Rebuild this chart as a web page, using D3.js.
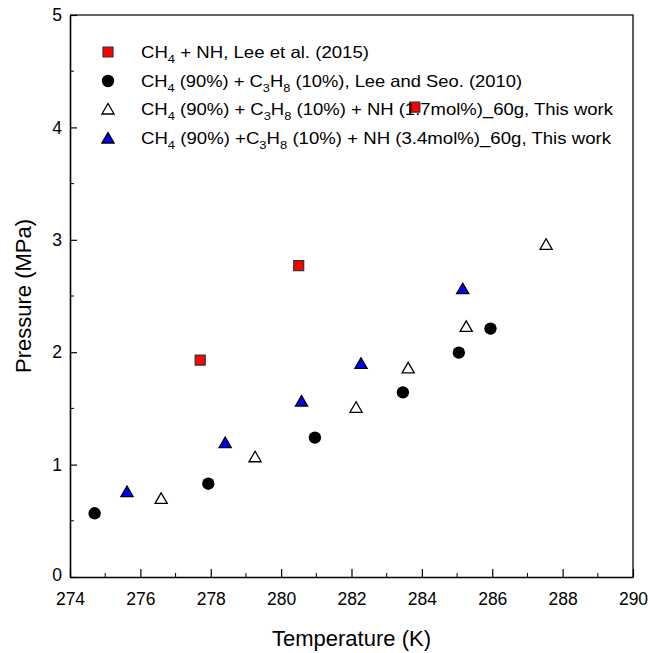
<!DOCTYPE html>
<html>
<head>
<meta charset="utf-8">
<script src="https://cdn.jsdelivr.net/npm/d3@7"></script>
<style>
  body { margin: 0; background: #fff; }
  text { font-family: "Liberation Sans", Arial, sans-serif; fill: #000; }
</style>
</head>
<body>
<div class="chart"></div>
<script>
// data
var leeNhT = [277.7, 280.5, 283.8];
var leeNhP = [1.93, 2.77, 4.18];

var leeSeoT = [274.7, 277.93, 280.96, 283.46, 285.05, 285.95];
var leeSeoP = [0.567, 0.83, 1.24, 1.643, 1.996, 2.21];

var nh17T = [276.59, 279.26, 282.13, 283.61, 285.26, 287.53];
var nh17P = [0.70, 1.07, 1.51, 1.86, 2.23, 2.96];

var nh34T = [275.62, 278.41, 280.58, 282.27, 285.16];
var nh34P = [0.76, 1.195, 1.566, 1.90, 2.565];

var xTicks = [274, 276, 278, 280, 282, 284, 286, 288, 290];
var yTicks = [0, 1, 2, 3, 4, 5];

var svgWidth = 651;
var svgHeight = 653;

var margin = { top: 15, right: 18, bottom: 76, left: 70 };
var width = svgWidth - margin.left - margin.right;
var height = svgHeight - margin.top - margin.bottom;

var svg = d3.select(".chart")
  .append("svg")
  .attr("width", svgWidth)
  .attr("height", svgHeight);

var chartGroup = svg.append("g")
  .attr("transform", `translate(${margin.left}, ${margin.top})`);

var xScale = d3.scaleLinear().domain([274, 290]).range([0, width]);
var yScale = d3.scaleLinear().domain([0, 5]).range([height, 0]);

// frame (top + right)
chartGroup.append("path")
  .attr("d", `M0,0 H${width} V${height}`)
  .attr("fill", "none")
  .attr("stroke", "#333")
  .attr("stroke-width", 1.6);

// minor ticks
var xMinor = d3.range(275, 290, 2);
var yMinor = d3.range(0.5, 5, 1);

chartGroup.append("g").selectAll("line")
  .data(xMinor)
  .enter()
  .append("line")
  .attr("x1", d => xScale(d)).attr("x2", d => xScale(d))
  .attr("y1", height).attr("y2", height - 4)
  .attr("stroke", "#000").attr("stroke-width", 1);

chartGroup.append("g").selectAll("line")
  .data(yMinor)
  .enter()
  .append("line")
  .attr("x1", 0).attr("x2", 4)
  .attr("y1", d => yScale(d)).attr("y2", d => yScale(d))
  .attr("stroke", "#000").attr("stroke-width", 1);

// axes with inward ticks
var bottomAxis = d3.axisBottom(xScale).tickValues(xTicks).tickFormat(d3.format("d"))
  .tickSizeInner(-8).tickSizeOuter(0).tickPadding(16);
var leftAxis = d3.axisLeft(yScale).tickValues(yTicks).tickFormat(d3.format("d"))
  .tickSizeInner(-7).tickSizeOuter(0).tickPadding(8);

var xAxisG = chartGroup.append("g")
  .attr("transform", `translate(0, ${height})`)
  .call(bottomAxis);

var yAxisG = chartGroup.append("g")
  .call(leftAxis);

[xAxisG, yAxisG].forEach(function(g) {
  g.select(".domain").attr("stroke", "#000").attr("stroke-width", 1.6);
  g.selectAll(".tick line").attr("stroke", "#000").attr("stroke-width", 1.2);
  g.selectAll(".tick text")
    .style("font-family", "'Liberation Sans', Arial, sans-serif")
    .style("font-size", "17.5px")
    .attr("fill", "#000");
});
// the first y tick label sits slightly below the axis corner
yAxisG.selectAll(".tick text").filter(d => d === 0).attr("dy", "0.2em");

// points
var triangle = d3.symbol().type(d3.symbolTriangle).size(64);
var square = d3.symbol().type(d3.symbolSquare).size(100);

chartGroup.append("g").selectAll("circle")
  .data(leeSeoT)
  .enter()
  .append("circle")
  .attr("cx", d => xScale(d))
  .attr("cy", (d, i) => yScale(leeSeoP[i]))
  .attr("r", 6.2)
  .attr("fill", "#000");

chartGroup.append("g").selectAll("path")
  .data(nh17T)
  .enter()
  .append("path")
  .attr("d", triangle)
  .attr("transform", (d, i) => `translate(${xScale(d)}, ${yScale(nh17P[i]) + 1.5})`)
  .attr("fill", "#fff")
  .attr("stroke", "#000")
  .attr("stroke-width", 1.3);

chartGroup.append("g").selectAll("path")
  .data(nh34T)
  .enter()
  .append("path")
  .attr("d", triangle)
  .attr("transform", (d, i) => `translate(${xScale(d)}, ${yScale(nh34P[i]) + 1.5})`)
  .attr("fill", "#0000ff")
  .attr("stroke", "#000")
  .attr("stroke-width", 1.3);

chartGroup.append("g").selectAll("path")
  .data(leeNhT)
  .enter()
  .append("path")
  .attr("d", square)
  .attr("transform", (d, i) => `translate(${xScale(d)}, ${yScale(leeNhP[i])})`)
  .attr("fill", "#ff0000")
  .attr("stroke", "#333")
  .attr("stroke-width", 1.2);

// legend
var legend = svg.append("g");
var rowY = [52, 81, 109, 138];
var rowLen = [228, 381, 472, 470];   // widths measured on the reference
var mx = 108, tx = 141;

legend.append("path").attr("d", square)
  .attr("transform", `translate(${mx}, ${rowY[0]})`)
  .attr("fill", "#ff0000").attr("stroke", "#333").attr("stroke-width", 1.2);
legend.append("circle").attr("cx", mx).attr("cy", rowY[1]).attr("r", 6.2).attr("fill", "#000");
legend.append("path").attr("d", triangle)
  .attr("transform", `translate(${mx}, ${rowY[2] + 1.5})`)
  .attr("fill", "#fff").attr("stroke", "#000").attr("stroke-width", 1.3);
legend.append("path").attr("d", triangle)
  .attr("transform", `translate(${mx}, ${rowY[3] + 1.5})`)
  .attr("fill", "#0000ff").attr("stroke", "#000").attr("stroke-width", 1.3);

// each label: list of [text, isSub]
var legendLabels = [
  [["CH", 0], ["4", 1], [" + NH, Lee et al. (2015)", 0]],
  [["CH", 0], ["4", 1], [" (90%) + C", 0], ["3", 1], ["H", 0], ["8", 1], [" (10%), Lee and Seo. (2010)", 0]],
  [["CH", 0], ["4", 1], [" (90%) + C", 0], ["3", 1], ["H", 0], ["8", 1], [" (10%) + NH (1.7mol%)_60g, This work", 0]],
  [["CH", 0], ["4", 1], [" (90%) +C", 0], ["3", 1], ["H", 0], ["8", 1], [" (10%) + NH (3.4mol%)_60g, This work", 0]]
];

legendLabels.forEach(function(parts, i) {
  var t = legend.append("text")
    .attr("x", tx)
    .attr("y", rowY[i] + 6)
    .attr("textLength", rowLen[i])
    .attr("lengthAdjust", "spacingAndGlyphs")
    .style("font-size", "16.5px");
  parts.forEach(function(p, j) {
    var s = t.append("tspan").text(p[0]);
    if (p[1]) {
      s.style("font-size", "11.5px").attr("dy", 5);
    } else if (j > 0 && parts[j - 1][1]) {
      s.attr("dy", -5);
    }
  });
});

// axis titles
svg.append("text")
  .attr("x", margin.left + width / 2)
  .attr("y", 646)
  .attr("text-anchor", "middle")
  .style("font-size", "22px")
  .text("Temperature (K)");

svg.append("text")
  .attr("transform", `translate(31, ${margin.top + height / 2}) rotate(-90)`)
  .attr("text-anchor", "middle")
  .style("font-size", "22px")
  .text("Pressure (MPa)");
</script>
</body>
</html>
